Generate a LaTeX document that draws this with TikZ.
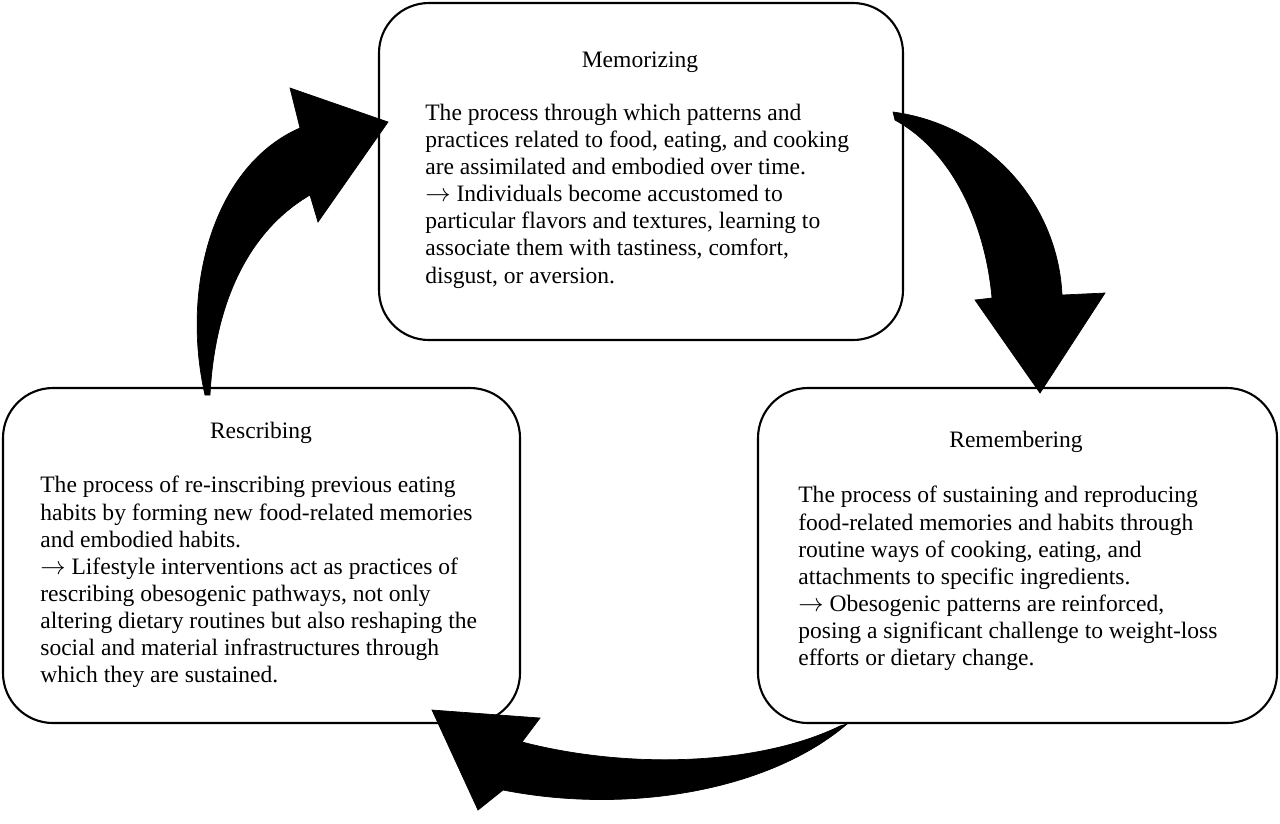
\documentclass[tikz,border=0pt]{standalone}
\usepackage{fontspec}
\setmainfont{Liberation Serif}
\usepackage{tikz}
\tikzset{
  font={\fontsize{13.4pt}{15.4pt}\selectfont},
  stagebox/.style={draw=black, line width=1.2pt, rounded corners=1cm, fill=white},
  bodytext/.style={anchor=north west, align=left, inner sep=0pt},
  bigarrow/.style={fill=black, draw=black}}
\begin{document}
\begin{tikzpicture}[x=0.02cm, y=-0.02cm]
\useasboundingbox (0,0) rectangle (1280,823);
%% the three stages
	\draw[stagebox] (379,3) rectangle (903,340);
	\draw[stagebox] (3,388) rectangle (520,723);
	\draw[stagebox] (758,388) rectangle (1277,723);
%% titles
    \node (memtitle) at (640,62) {Memorizing};
    \node (rescrtitle) at (261,433) {Rescribing};
    \node (remtitle) at (1016,442) {Remembering};
%% texts
    \node[bodytext] (memtext) at (425,104) {The process through which patterns and\\
      practices related to food, eating, and cooking\\
      are assimilated and embodied over time.\\
      $\rightarrow$ Individuals become accustomed to\\
      particular flavors and textures, learning to\\
      associate them with tastiness, comfort,\\
      disgust, or aversion.};
    \node[bodytext] (rescrtext) at (40,476) {The process of re-inscribing previous eating\\
      habits by forming new food-related memories\\
      and embodied habits.\\
      $\rightarrow$ Lifestyle interventions act as practices of\\
      rescribing obesogenic pathways, not only\\
      altering dietary routines but also reshaping the\\
      social and material infrastructures through\\
      which they are sustained.};
    \node[bodytext] (remtext) at (798,486) {The process of sustaining and reproducing\\
      food-related memories and habits through\\
      routine ways of cooking, eating, and\\
      attachments to specific ingredients.\\
      $\rightarrow$ Obesogenic patterns are reinforced,\\
      posing a significant challenge to weight-loss\\
      efforts or dietary change.};
%% curved block arrows
    \fill[bigarrow] (893,112) .. controls (990,125) and (1058,205) .. (1062,295)
      -- (1105,293) -- (1040,393) -- (975,300) -- (992,298)
      .. controls (985,220) and (950,150) .. (895,120) -- cycle;
    \fill[bigarrow] (847,724) .. controls (770,790) and (630,815) .. (503,790)
      -- (478,810) -- (432,710) -- (540,718) -- (522,742)
      .. controls (630,770) and (760,765) .. (840,726) -- cycle;
    \fill[bigarrow] (205,395) .. controls (180,285) and (215,165) .. (300,128)
      -- (290,88) -- (388,122) -- (318,222) -- (310,195)
      .. controls (250,230) and (215,300) .. (210,395) -- cycle;
\end{tikzpicture}
\end{document}
